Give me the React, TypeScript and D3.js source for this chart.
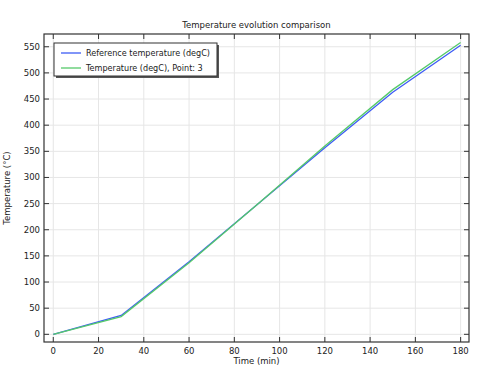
import React, { useRef, useEffect } from 'react';
import * as d3 from 'd3';

const times = [0, 30, 60, 90, 120, 150, 180];
const referenceTemp = [0, 36, 139, 248, 357, 463, 553];
const pointTemp = [0, 34, 137, 248, 360, 468, 558];
const xTicks = [0, 20, 40, 60, 80, 100, 120, 140, 160, 180];
const yTicks = [0, 50, 100, 150, 200, 250, 300, 350, 400, 450, 500, 550];
const seriesNames = ['Reference temperature (degC)', 'Temperature (degC), Point: 3'];
const colors = ['#3d5cf5', '#55c96a'];

function App() {
  const svgRef = useRef(null);

  useEffect(() => {
    const w = 481;
    const h = 370;
    const left = 44, right = 469, top = 34, bottom = 342;
    const font = 'DejaVu Sans, sans-serif';

    const svg = d3.select(svgRef.current);
    svg.selectAll('*').remove();

    const x = d3.scaleLinear().domain([-4.1, 183.7]).range([left, right]);
    const y = d3.scaleLinear().domain([-14.7, 574.4]).range([bottom, top]);

    svg.append('rect').attr('width', w).attr('height', h).attr('fill', 'white');

    // grid
    svg.append('g').selectAll('line').data(xTicks).join('line')
      .attr('x1', d => x(d)).attr('x2', d => x(d))
      .attr('y1', top).attr('y2', bottom)
      .attr('stroke', '#e6e6e6').attr('stroke-width', 1);
    svg.append('g').selectAll('line').data(yTicks).join('line')
      .attr('x1', left).attr('x2', right)
      .attr('y1', d => y(d)).attr('y2', d => y(d))
      .attr('stroke', '#e6e6e6').attr('stroke-width', 1);

    // lines
    const series = [referenceTemp, pointTemp];
    const line = d3.line<number>()
      .x((d, i) => x(times[i]))
      .y(d => y(d));
    series.forEach((s, k) => {
      svg.append('path')
        .attr('d', line(s))
        .attr('fill', 'none')
        .attr('stroke', colors[k])
        .attr('stroke-width', 1.3);
    });

    // frame
    svg.append('rect')
      .attr('x', left).attr('y', top)
      .attr('width', right - left).attr('height', bottom - top)
      .attr('fill', 'none').attr('stroke', '#333').attr('stroke-width', 1.2);

    // inward ticks
    const tk = svg.append('g').attr('stroke', '#333').attr('stroke-width', 1);
    xTicks.forEach(t => {
      tk.append('line').attr('x1', x(t)).attr('x2', x(t)).attr('y1', bottom).attr('y2', bottom - 5);
      tk.append('line').attr('x1', x(t)).attr('x2', x(t)).attr('y1', top).attr('y2', top + 5);
    });
    yTicks.forEach(t => {
      tk.append('line').attr('x1', left).attr('x2', left + 5).attr('y1', y(t)).attr('y2', y(t));
      tk.append('line').attr('x1', right).attr('x2', right - 5).attr('y1', y(t)).attr('y2', y(t));
    });

    // tick labels
    svg.append('g').selectAll('text').data(xTicks).join('text')
      .attr('x', d => x(d)).attr('y', 354)
      .attr('text-anchor', 'middle')
      .style('font-family', font).style('font-size', '8.5px').attr('fill', '#222')
      .text(d => String(d));
    svg.append('g').selectAll('text').data(yTicks).join('text')
      .attr('x', 40).attr('y', d => y(d) + 3)
      .attr('text-anchor', 'end')
      .style('font-family', font).style('font-size', '8.5px').attr('fill', '#222')
      .text(d => String(d));

    // titles
    svg.append('text')
      .attr('x', (left + right) / 2).attr('y', 28)
      .attr('text-anchor', 'middle')
      .style('font-family', font).style('font-size', '8.5px').attr('fill', '#222')
      .text('Temperature evolution comparison');
    svg.append('text')
      .attr('x', (left + right) / 2).attr('y', 364)
      .attr('text-anchor', 'middle')
      .style('font-family', font).style('font-size', '8.5px').attr('fill', '#222')
      .text('Time (min)');
    svg.append('text')
      .attr('transform', `translate(10, ${(top + bottom) / 2}) rotate(-90)`)
      .attr('text-anchor', 'middle')
      .style('font-family', font).style('font-size', '8.5px').attr('fill', '#222')
      .text('Temperature (°C)');

    // legend
    const lg = svg.append('g');
    lg.append('rect').attr('x', 56).attr('y', 45).attr('width', 163).attr('height', 33).attr('fill', '#555');
    lg.append('rect').attr('x', 54).attr('y', 43).attr('width', 163).attr('height', 33)
      .attr('fill', 'white').attr('stroke', '#333').attr('stroke-width', 1);
    seriesNames.forEach((name, k) => {
      const yy = 53 + k * 15;
      lg.append('line').attr('x1', 61).attr('x2', 81).attr('y1', yy).attr('y2', yy)
        .attr('stroke', colors[k]).attr('stroke-width', 1.3);
      lg.append('text').attr('x', 86).attr('y', yy + 3)
        .style('font-family', font).style('font-size', '8.1px').attr('fill', '#222')
        .text(name);
    });
  }, []);

  return (
    <svg ref={svgRef} width={481} height={370}
      style={{ position: 'absolute', left: 0, top: 0, display: 'block' }} />
  );
}

export default App;
